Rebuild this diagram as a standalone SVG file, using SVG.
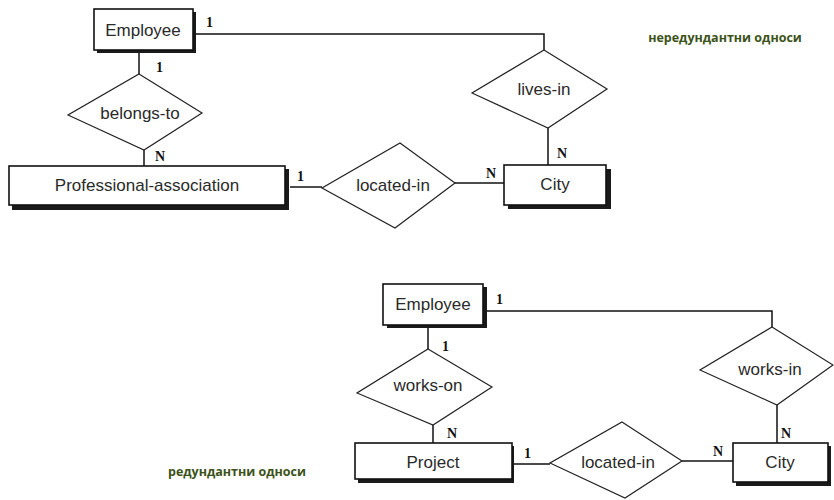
<svg xmlns="http://www.w3.org/2000/svg" width="834" height="500" viewBox="0 0 834 500">
<defs>
<style>
.shadow{fill:#1a1a1a}
.ent{fill:#fff;stroke:#111;stroke-width:1.6}
.rel{fill:#fff;stroke:#222;stroke-width:1.2}
.lbl{font-family:"Liberation Sans",Arial,sans-serif;font-size:17px;fill:#2a2a2a;text-anchor:middle;dominant-baseline:central}
.card{font-family:"Liberation Serif","Times New Roman",serif;font-size:14px;font-weight:bold;fill:#111}
.conn{fill:none;stroke:#111;stroke-width:1.5}
.note{font-family:"Open Sans","Noto Sans",sans-serif;font-size:12.5px;font-weight:bold;fill:#3b5219;text-anchor:middle}
</style>
</defs>
<rect width="834" height="500" fill="#fff"/>

<g id="connectors">
<polyline class="conn" points="196,34 544,34 544,50"/>
<line class="conn" x1="548" y1="128" x2="548" y2="165"/>
<line class="conn" x1="455" y1="183" x2="504" y2="183"/>
<line class="conn" x1="290" y1="187" x2="322" y2="187"/>
<line class="conn" x1="139" y1="53" x2="139" y2="74"/>
<line class="conn" x1="144" y1="150" x2="144" y2="166"/>
<polyline class="conn" points="487,311 772,311 772,327"/>
<line class="conn" x1="777" y1="405" x2="777" y2="443"/>
<line class="conn" x1="682" y1="461" x2="733" y2="461"/>
<line class="conn" x1="513" y1="464" x2="550" y2="464"/>
<line class="conn" x1="428" y1="328" x2="428" y2="349"/>
<line class="conn" x1="433" y1="425" x2="433" y2="443"/>
</g>

<g id="cards">
<text class="card" x="206" y="27">1</text>
<text class="card" x="156" y="72">1</text>
<text class="card" x="155" y="161">N</text>
<text class="card" x="557" y="158">N</text>
<text class="card" x="486" y="178">N</text>
<text class="card" x="297" y="181">1</text>
<text class="card" x="496" y="304">1</text>
<text class="card" x="442" y="351">1</text>
<text class="card" x="447" y="438">N</text>
<text class="card" x="781" y="438">N</text>
<text class="card" x="713" y="456">N</text>
<text class="card" x="524" y="458">1</text>
</g>

<g id="employee1">
<rect class="shadow" x="97" y="12" width="99" height="41"/>
<rect class="ent" x="94" y="9" width="99" height="41"/>
<text class="lbl" x="143" y="30">Employee</text>
</g>
<g id="belongs-to">
<polygon class="rel" points="139,74 202,113 144,150 68,115"/>
<text class="lbl" x="140" y="113">belongs-to</text>
</g>
<g id="prof-assoc">
<rect class="shadow" x="12" y="169" width="277" height="41"/>
<rect class="ent" x="9" y="166" width="276" height="39"/>
<text class="lbl" x="147" y="185">Professional-association</text>
</g>
<g id="located-in1">
<polygon class="rel" points="400,143 455,183 395,228 322,188"/>
<text class="lbl" x="393" y="185">located-in</text>
</g>
<g id="lives-in">
<polygon class="rel" points="544,50 607,89 548,128 472,93"/>
<text class="lbl" x="544" y="89">lives-in</text>
</g>
<g id="city1">
<rect class="shadow" x="508" y="169" width="103" height="40"/>
<rect class="ent" x="504" y="165" width="102" height="40"/>
<text class="lbl" x="555" y="184">City</text>
</g>

<g id="employee2">
<rect class="shadow" x="387" y="287" width="100" height="41"/>
<rect class="ent" x="383" y="284" width="100" height="41"/>
<text class="lbl" x="433" y="304">Employee</text>
</g>
<g id="works-on">
<polygon class="rel" points="428,349 492,387 433,425 357,393"/>
<text class="lbl" x="428" y="385">works-on</text>
</g>
<g id="project">
<rect class="shadow" x="358" y="446" width="156" height="37"/>
<rect class="ent" x="355" y="443" width="157" height="36"/>
<text class="lbl" x="433" y="462">Project</text>
</g>
<g id="located-in2">
<polygon class="rel" points="622,422 682,461 625,498 550,463"/>
<text class="lbl" x="618" y="462">located-in</text>
</g>
<g id="works-in">
<polygon class="rel" points="772,327 833,365 777,405 700,370"/>
<text class="lbl" x="770" y="369">works-in</text>
</g>
<g id="city2">
<rect class="shadow" x="736" y="446" width="95" height="40"/>
<rect class="ent" x="733" y="443" width="95" height="39"/>
<text class="lbl" x="780" y="462">City</text>
</g>

<text class="note" x="725" y="42">нередундантни односи</text>
<text class="note" x="237" y="476">редундантни односи</text>
</svg>
